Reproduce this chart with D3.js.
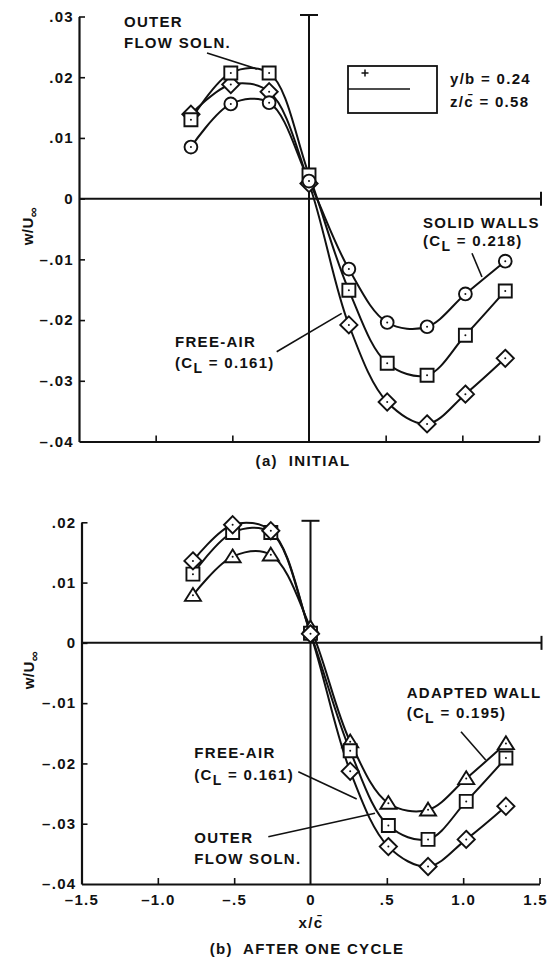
<!DOCTYPE html>
<html>
<head>
<meta charset="utf-8">
<script src="https://cdn.jsdelivr.net/npm/d3@7"></script>
<style>
  html, body { margin: 0; padding: 0; background: #fff; }
  svg { display: block; }
  text { font-family: "Liberation Sans", Arial, Helvetica, sans-serif; font-weight: bold; fill: #111; letter-spacing: 1.3px; white-space: pre; }
</style>
</head>
<body>
<svg id="chart" width="547" height="963"></svg>
<script>
// Stations along x/c̄ where the upwash w/U∞ is evaluated
const xStations = [-0.77, -0.51, -0.26, 0, 0.26, 0.51, 0.77, 1.02, 1.28];

// (a) Initial
const initialSolidWalls = [0.0085, 0.0156, 0.0158, 0.0029, -0.0116, -0.0204, -0.0211, -0.0157, -0.0103];
const initialOuterFlow  = [0.0130, 0.0207, 0.0207, 0.0039, -0.0151, -0.0271, -0.0291, -0.0225, -0.0152];
const initialFreeAir    = [0.0139, 0.0188, 0.0176, 0.0025, -0.0208, -0.0335, -0.0371, -0.0322, -0.0263];

// (b) After one cycle
const cycleAdaptedWall = [0.0079, 0.0143, 0.0146, 0.0025, -0.0164, -0.0266, -0.0277, -0.0225, -0.0167];
const cycleOuterFlow   = [0.0114, 0.0183, 0.0183, 0.0016, -0.0179, -0.0303, -0.0326, -0.0263, -0.0191];
const cycleFreeAir     = [0.0136, 0.0196, 0.0186, 0.0015, -0.0213, -0.0338, -0.0371, -0.0326, -0.0271];

// Axis ticks
const yTicksA = [0.03, 0.02, 0.01, 0, -0.01, -0.02, -0.03, -0.04];
const yTickLabelsA = [".03", ".02", ".01", "0", "\u2013.01", "\u2013.02", "\u2013.03", "\u2013.04"];
const yTicksB = [0.02, 0.01, 0, -0.01, -0.02, -0.03, -0.04];
const yTickLabelsB = [".02", ".01", "0", "\u2013.01", "\u2013.02", "\u2013.03", "\u2013.04"];
const xTicks = [-1.5, -1.0, -0.5, 0, 0.5, 1.0, 1.5];
const xTickLabels = ["\u20131.5", "\u20131.0", "\u2013.5", "0", ".5", "1.0", "1.5"];

// Callouts (text anchor and leader line given in data units; "|" marks the subscript)
const notesA = [
  { lines: ["OUTER", "FLOW SOLN."], at: [-1.207, 0.0283], gap: 21, from: [-0.665, 0.0240], to: [-0.339, 0.02135] },
  { lines: ["SOLID WALLS", "(C|L| = 0.218)"], at: [0.7435, -0.00484], gap: 18, from: [1.063, -0.0090], to: [1.128, -0.0129] },
  { lines: ["FREE-AIR", "(C|L| = 0.161)"], at: [-0.874, -0.02439], gap: 21, from: [-0.2107, -0.02521], to: [0.2133, -0.01889] }
];
const notesB = [
  { lines: ["ADAPTED WALL", "(C|L| = 0.195)"], at: [0.630, -0.00915], gap: 20, from: [0.9858, -0.01474], to: [1.1476, -0.01943] },
  { lines: ["FREE-AIR", "(C|L| = 0.161)"], at: [-0.7611, -0.01915], gap: 21.5, from: [-0.0799, -0.02137], to: [0.3026, -0.0259] },
  { lines: ["OUTER", "FLOW SOLN."], at: [-0.7611, -0.0332], gap: 21, from: [-0.2764, -0.03215], to: [0.4225, -0.02827] }
];

const INK = "#111";
const svg = d3.select("#chart");

const shapes = {
  circle:   d3.symbol(d3.symbolCircle, Math.PI * 6.4 * 6.4)(),
  square:   "M-6.5,-6.5h13v13h-13Z",
  diamond:  "M0,-8.6L8.6,0L0,8.6L-8.6,0Z",
  triangle: "M0,-7.2L8,5.6L-8,5.6Z"
};

function drawPanel(p) {
  const f = p.frame;
  const x = d3.scaleLinear().domain([-1.5, 1.5]).range([f.left, f.right]);
  const y = d3.scaleLinear().domain(p.yDomain).range([f.bottom, f.top]);
  const g = svg.append("g");

  // y axis (ticks pointing inward)
  const yAxis = d3.axisLeft(y).tickValues(p.yTicks)
    .tickFormat((d, i) => p.yLabels[i]).tickSizeInner(-6).tickSizeOuter(0).tickPadding(5);
  const ya = g.append("g").attr("transform", `translate(${f.left},0)`).call(yAxis);
  ya.select(".domain").attr("stroke", INK).attr("stroke-width", 2.2);
  ya.selectAll(".tick line").attr("stroke", INK).attr("stroke-width", 1.6);
  ya.selectAll(".tick text").attr("font-size", 15).attr("fill", INK)
    .style("font-family", '"Liberation Sans", Arial, sans-serif').style("font-weight", "bold");
  ya.selectAll(".tick").filter(d => d === p.yDomain[0]).select("line").remove();

  // x axis
  const xAxis = d3.axisBottom(x).tickValues(xTicks)
    .tickFormat((d, i) => p.xLabels ? xTickLabels[i] : "").tickSizeInner(-6).tickSizeOuter(0).tickPadding(10);
  const xa = g.append("g").attr("transform", `translate(0,${f.bottom})`).call(xAxis);
  xa.select(".domain").attr("stroke", INK).attr("stroke-width", 2.2);
  xa.selectAll(".tick line").attr("stroke", INK).attr("stroke-width", 1.6);
  xa.selectAll(".tick").filter(d => d === -1.5 || d === 0).select("line").remove();
  xa.selectAll(".tick text").attr("font-size", 15).attr("fill", INK)
    .style("font-family", '"Liberation Sans", Arial, sans-serif').style("font-weight", "bold");
  // last label sits flush against the right edge
  xa.selectAll(".tick").filter(d => d === 1.5).select("text")
    .attr("text-anchor", "end").attr("x", 8);

  // zero reference lines with end caps
  const x0 = x(0), y0 = y(0), xEnd = x(1.5) + 2;
  g.append("line").attr("x1", f.left).attr("x2", xEnd).attr("y1", y0).attr("y2", y0)
    .attr("stroke", INK).attr("stroke-width", 2);
  g.append("line").attr("x1", xEnd).attr("x2", xEnd).attr("y1", y0 - 7).attr("y2", y0 + 7)
    .attr("stroke", INK).attr("stroke-width", 2);
  g.append("line").attr("x1", x0).attr("x2", x0).attr("y1", f.top - 1.5).attr("y2", f.bottom)
    .attr("stroke", INK).attr("stroke-width", 2);
  g.append("line").attr("x1", x0 - 9).attr("x2", x0 + 9).attr("y1", f.top - 1.5).attr("y2", f.top - 1.5)
    .attr("stroke", INK).attr("stroke-width", 2);

  // y axis title
  const yt = g.append("text")
    .attr("transform", `translate(${p.yTitle[0]},${p.yTitle[1]}) rotate(-90)`)
    .attr("text-anchor", "middle").attr("font-size", 15).style("letter-spacing", "0.5px");
  yt.append("tspan").text("w/U");
  yt.append("tspan").attr("dy", 5).attr("font-size", 14).text("\u221E");

  // curves
  const line = d3.line().x((d, i) => x(xStations[i])).y(d => y(d))
    .curve(d3.curveCatmullRom.alpha(0.5));
  p.series.forEach(s => {
    g.append("path").attr("d", line(s.values)).attr("fill", "none")
      .attr("stroke", INK).attr("stroke-width", 2);
  });

  // symbols
  p.series.forEach(s => {
    const m = g.append("g").selectAll("g").data(s.values).join("g")
      .attr("transform", (d, i) => `translate(${x(xStations[i])},${y(d)})`);
    m.append("path").attr("d", shapes[s.shape]).attr("fill", "#fff")
      .attr("stroke", INK).attr("stroke-width", 1.9).attr("stroke-linejoin", "miter");
    m.append("circle").attr("r", 1).attr("fill", INK);
  });

  // callouts
  p.notes.forEach(n => {
    g.append("line")
      .attr("x1", x(n.from[0])).attr("y1", y(n.from[1]))
      .attr("x2", x(n.to[0])).attr("y2", y(n.to[1]))
      .attr("stroke", INK).attr("stroke-width", 1.6);
    n.lines.forEach((ln, k) => {
      const t = g.append("text").attr("x", x(n.at[0])).attr("y", y(n.at[1]) + k * n.gap)
        .attr("font-size", 15);
      const parts = ln.split("|");
      if (parts.length === 3) {
        t.append("tspan").text(parts[0]);
        t.append("tspan").attr("dy", 5).attr("font-size", 14).text(parts[1]);
        t.append("tspan").attr("dy", -5).text(parts[2]);
      } else {
        t.text(ln);
      }
    });
  });

  // caption(s) under the panel
  p.captions.forEach(c => {
    g.append("text").attr("x", c.x).attr("y", c.y).attr("text-anchor", "middle")
      .attr("font-size", 15).text(c.text);
  });
  return { x, y, g };
}

const a = drawPanel({
  frame: { left: 79, right: 539, top: 16.5, bottom: 441.5 },
  yDomain: [-0.04, 0.03], yTicks: yTicksA, yLabels: yTickLabelsA, xLabels: false,
  yTitle: [33, 226],
  series: [
    { values: initialFreeAir, shape: "diamond" },
    { values: initialOuterFlow, shape: "square" },
    { values: initialSolidWalls, shape: "circle" }
  ],
  notes: notesA,
  captions: [{ text: "(a)  INITIAL", x: 303, y: 466 }]
});

// key box with station info
const key = a.g.append("g");
key.append("rect").attr("x", 348).attr("y", 66).attr("width", 89).attr("height", 47)
  .attr("fill", "none").attr("stroke", INK).attr("stroke-width", 1.8);
key.append("line").attr("x1", 348).attr("x2", 410).attr("y1", 89).attr("y2", 89)
  .attr("stroke", INK).attr("stroke-width", 1.6);
key.append("path").attr("d", "M365,69.5v7M361.5,73h7").attr("stroke", INK).attr("stroke-width", 1.5);
key.append("text").attr("x", 450).attr("y", 84).attr("font-size", 15).text("y/b = 0.24");
key.append("text").attr("x", 450).attr("y", 107).attr("font-size", 15).text("z/c\u0304 = 0.58");

drawPanel({
  frame: { left: 81.5, right: 539.5, top: 522.3, bottom: 884 },
  yDomain: [-0.04, 0.02], yTicks: yTicksB, yLabels: yTickLabelsB, xLabels: true,
  yTitle: [34, 670],
  series: [
    { values: cycleAdaptedWall, shape: "triangle" },
    { values: cycleOuterFlow, shape: "square" },
    { values: cycleFreeAir, shape: "diamond" }
  ],
  notes: notesB,
  captions: [
    { text: "x/c\u0304", x: 311, y: 928 },
    { text: "(b)  AFTER ONE CYCLE", x: 307, y: 954 }
  ]
});
</script>
</body>
</html>
